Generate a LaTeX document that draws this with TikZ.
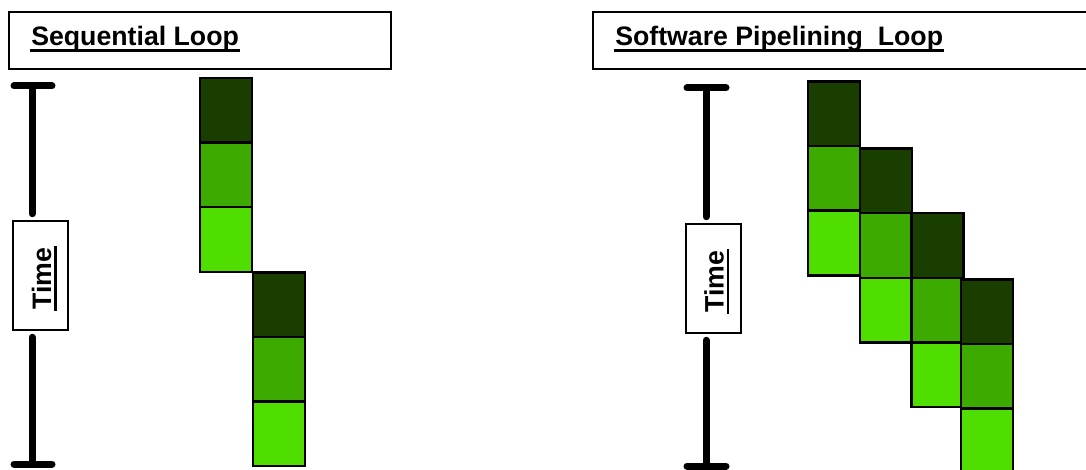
\documentclass[tikz,border=0pt]{standalone}
\usepackage{color}
\usepackage{fontspec}
\setmainfont{Liberation Sans}
\usepackage{tikz}
\definecolor{stagea}{RGB}{26,61,0}
\definecolor{stageb}{RGB}{61,170,0}
\definecolor{stagec}{RGB}{80,221,0}
\tikzset{
  font={\fontsize{26.7pt}{30}\selectfont\bfseries}}

\begin{document}
\begin{tikzpicture}[x=1pt, y=-1pt, node distance={64.5pt}, line width=2.5pt,
  blk/.style = {draw, rectangle, minimum width=52pt, minimum height=64.5pt, inner sep=0pt},
  titlebox/.style = {draw, rectangle, minimum height=57pt, inner sep=0pt},
  timebox/.style = {draw, fill=white, rectangle, minimum width=55pt, minimum height=109pt, inner sep=0pt},
  ttl/.style = {inner sep=0pt, anchor=base west},
  timetxt/.style = {inner sep=0pt, rotate=90},
  bar/.style = {line width=7pt, line cap=round}]
\useasboundingbox (0,0) rectangle (1086,470);
\clip (0,0) rectangle (1086,470);

% titles
\node[titlebox, minimum width=382pt] (seqbox) at (200,40.5) {};
\node[titlebox, minimum width=502pt] (swpbox) at (844,40.5) {};
\node[ttl] (seqtitle) at (30,46) {Sequential Loop};
\node[ttl] (swptitle) at (614,46) {Software Pipelining~~Loop};
\draw ([yshift=-4.5pt]seqtitle.base west) -- ([yshift=-4.5pt]seqtitle.base east);
\draw ([yshift=-4.5pt]swptitle.base west) -- ([yshift=-4.5pt]swptitle.base east);

% time bars
\coordinate (ltop) at (32,86);
\coordinate (lbot) at (32,464);
\node[timebox] (ltime) at (40.5,275.5) {};
\node[timetxt] (ltimelbl) at ([xshift=1pt,yshift=-3pt]ltime.center) {Time};
\draw ([xshift=4.5pt]ltimelbl.base west) -- ([xshift=4.5pt]ltimelbl.base east);
\draw[bar, shorten >=6pt] (ltop) -- (ltop |- ltime.north);
\draw[bar, shorten <=6pt] (ltop |- ltime.south) -- (lbot);
\draw[bar] ([xshift=-18pt]ltop) -- ([xshift=20pt]ltop);
\draw[bar] ([xshift=-18pt]lbot) -- ([xshift=20pt]lbot);

\coordinate (rtop) at (706,88);
\coordinate (rbot) at (706,466);
\node[timebox] (rtime) at (713.5,278.5) {};
\node[timetxt] (rtimelbl) at ([xshift=0.5pt,yshift=-3pt]rtime.center) {Time};
\draw ([xshift=4.5pt]rtimelbl.base west) -- ([xshift=4.5pt]rtimelbl.base east);
\draw[bar, shorten >=6pt] (rtop) -- (rtop |- rtime.north);
\draw[bar, shorten <=6pt] (rtop |- rtime.south) -- (rbot);
\draw[bar] ([xshift=-19pt]rtop) -- ([xshift=20pt]rtop);
\draw[bar] ([xshift=-19pt]rbot) -- ([xshift=20pt]rbot);

% sequential iterations
\node[blk, fill=stagea] (s1a) at (226,110.5) {};
\node[blk, fill=stageb] (s1b) [below of=s1a] {};
\node[blk, fill=stagec] (s1c) [below of=s1b] {};
\node[blk, fill=stagea] (s2a) at (279,304.5) {};
\node[blk, fill=stageb] (s2b) [below of=s2a] {};
\node[blk, fill=stagec] (s2c) [below of=s2b] {};

% pipelined iterations
\node[blk, fill=stagea] (p1a) at (834,114) {};
\node[blk, fill=stageb] (p1b) [below of=p1a] {};
\node[blk, fill=stagec] (p1c) [below of=p1b] {};
\node[blk, fill=stagea] (p2a) at (886,181) {};
\node[blk, fill=stageb] (p2b) [below of=p2a] {};
\node[blk, fill=stagec] (p2c) [below of=p2b] {};
\node[blk, fill=stagea] (p3a) at (937.5,245.5) {};
\node[blk, fill=stageb] (p3b) [below of=p3a] {};
\node[blk, fill=stagec] (p3c) [below of=p3b] {};
\node[blk, fill=stagea] (p4a) at (987,311.5) {};
\node[blk, fill=stageb] (p4b) [below of=p4a] {};
\node[blk, fill=stagec] (p4c) [below of=p4b] {};
\end{tikzpicture}
\end{document}
